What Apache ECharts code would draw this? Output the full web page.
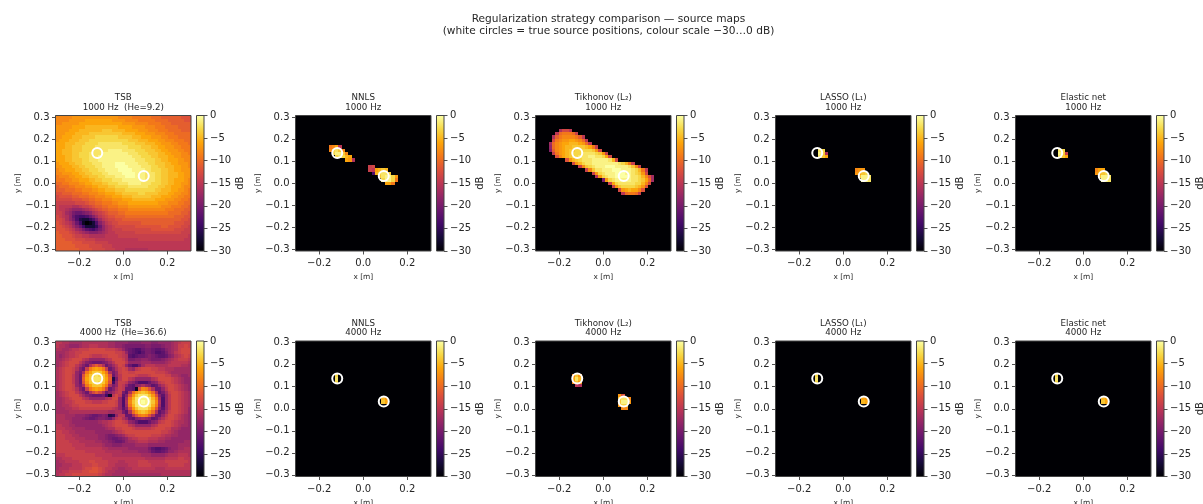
<!DOCTYPE html>
<html>
<head>
<meta charset="utf-8">
<style>html,body{margin:0;padding:0;background:#fff}#c{width:1203px;height:504px}</style>
<script src="https://cdn.jsdelivr.net/npm/echarts@6/dist/echarts.min.js"></script>
</head>
<body>
<div id="c"></div>
<script>
// Values are attenuation below peak in dB (top row first, y = +0.30).
const tsb1000Rows = [
[8,8,8,8,8,7,7,7,7,7,7,7,7,7,7,7,7,7,7,8,8,8,8,9,9,9,9,9,9,10,10,10,11,11,11,11,11,11,12,12,12],
[8,8,8,8,7,7,7,7,7,6,6,6,6,6,6,6,6,7,7,7,7,8,8,8,8,9,9,9,9,9,10,10,10,10,11,11,11,11,11,12,12],
[8,8,7,7,7,7,7,6,6,6,6,6,6,6,6,6,6,6,6,6,7,7,7,7,8,8,8,8,9,9,9,9,10,10,10,11,11,11,11,11,11],
[7,7,7,7,7,6,6,6,6,5,5,5,5,5,5,5,5,5,5,6,6,6,6,7,7,7,7,8,8,8,9,9,9,10,10,10,10,11,11,11,11],
[7,7,7,7,6,6,6,5,5,5,5,5,5,5,4,4,4,5,5,5,5,6,6,6,6,7,7,7,8,8,8,9,9,9,10,10,10,10,11,11,11],
[7,7,7,6,6,6,5,5,5,5,4,4,4,4,4,4,4,4,4,4,5,5,5,5,6,6,6,7,7,7,8,8,8,9,9,9,10,10,10,10,10],
[7,7,6,6,6,5,5,5,4,4,4,4,3,3,3,3,3,3,3,4,4,4,4,5,5,5,6,6,6,7,7,7,8,8,9,9,9,10,10,10,10],
[7,6,6,6,5,5,5,4,4,4,3,3,3,3,3,3,3,3,3,3,3,3,4,4,4,5,5,5,6,6,6,7,7,8,8,8,9,9,9,10,10],
[6,6,6,5,5,5,4,4,4,3,3,3,3,2,2,2,2,2,2,2,3,3,3,3,4,4,4,5,5,5,6,6,7,7,7,8,8,9,9,9,10],
[6,6,6,5,5,4,4,4,3,3,3,3,2,2,2,2,2,2,2,2,2,2,3,3,3,3,4,4,4,5,5,6,6,7,7,7,8,8,9,9,9],
[6,6,5,5,5,4,4,4,3,3,3,2,2,2,2,2,1,1,1,1,2,2,2,2,3,3,3,4,4,4,5,5,6,6,7,7,7,8,8,9,9],
[6,6,5,5,5,4,4,3,3,3,2,2,2,2,1,1,1,1,1,1,1,1,2,2,2,3,3,3,4,4,4,5,5,6,6,7,7,7,8,8,9],
[6,6,6,5,5,4,4,3,3,3,2,2,2,1,1,1,1,1,1,1,1,1,1,2,2,2,3,3,3,4,4,5,5,5,6,6,7,7,8,8,8],
[6,6,6,5,5,4,4,4,3,3,2,2,2,1,1,1,1,1,1,1,1,1,1,1,2,2,2,3,3,3,4,4,5,5,6,6,6,7,7,8,8],
[7,6,6,6,5,5,4,4,3,3,3,2,2,2,1,1,1,1,0,0,0,1,1,1,1,2,2,2,3,3,4,4,4,5,5,6,6,7,7,7,8],
[7,7,6,6,6,5,5,4,4,3,3,3,2,2,1,1,1,1,0,0,0,0,1,1,1,1,2,2,2,3,3,4,4,5,5,5,6,6,7,7,8],
[8,7,7,6,6,6,5,5,4,4,3,3,3,2,2,1,1,1,1,0,0,0,0,1,1,1,1,2,2,3,3,3,4,4,5,5,6,6,7,7,7],
[8,8,7,7,7,6,6,5,5,4,4,3,3,3,2,2,1,1,1,1,0,0,0,0,1,1,1,2,2,2,3,3,4,4,5,5,5,6,6,7,7],
[9,8,8,8,7,7,6,6,5,5,4,4,4,3,3,2,2,2,1,1,1,0,0,0,1,1,1,2,2,2,3,3,4,4,5,5,5,6,6,7,7],
[9,9,9,8,8,7,7,6,6,6,5,5,4,4,3,3,3,2,2,2,1,1,1,1,1,1,1,2,2,2,3,3,4,4,5,5,6,6,6,7,8],
[10,10,9,9,8,8,8,7,7,6,6,5,5,5,4,4,3,3,3,2,2,2,1,1,1,1,2,2,2,3,3,3,4,4,5,5,6,6,7,7,8],
[11,10,10,10,9,9,8,8,8,7,7,6,6,5,5,5,4,4,3,3,3,3,2,2,2,2,2,2,3,3,3,4,4,5,5,6,6,6,7,8,8],
[11,11,11,10,10,10,9,9,8,8,8,7,7,6,6,5,5,5,4,4,4,3,3,3,3,3,3,3,3,3,4,4,5,5,5,6,6,7,7,8,9],
[12,12,11,11,11,10,10,10,9,9,8,8,8,7,7,6,6,6,5,5,4,4,4,4,4,3,3,4,4,4,4,5,5,5,6,6,7,7,8,8,9],
[13,12,12,12,12,11,11,10,10,10,9,9,8,8,8,7,7,6,6,6,5,5,5,4,4,4,4,4,4,5,5,5,6,6,6,7,7,8,8,9,9],
[13,13,13,13,13,12,12,12,11,11,10,10,9,9,8,8,8,7,7,7,6,6,6,5,5,5,5,5,5,5,6,6,6,7,7,7,8,8,9,9,10],
[14,14,14,14,14,14,13,13,13,12,11,11,10,10,9,9,9,8,8,7,7,7,6,6,6,6,6,6,6,6,6,7,7,7,8,8,8,9,9,10,10],
[14,15,15,15,15,16,16,15,14,14,13,12,11,11,10,10,9,9,9,8,8,8,7,7,7,7,7,7,7,7,7,7,8,8,8,9,9,9,10,10,11],
[14,15,15,16,17,18,18,18,17,16,15,14,13,12,11,11,10,10,10,9,9,9,8,8,8,8,8,8,8,8,8,8,8,9,9,9,10,10,10,11,11],
[14,14,15,17,18,20,21,21,20,19,18,16,15,14,13,12,11,11,11,10,10,9,9,9,9,9,9,9,9,9,9,9,9,9,10,10,10,10,11,11,12],
[13,14,15,16,18,21,23,24,24,23,21,19,17,15,14,13,12,12,11,11,11,10,10,10,10,10,10,10,10,10,10,10,10,10,10,10,11,11,11,12,12],
[13,13,14,16,18,20,23,26,27,27,25,23,20,17,15,14,13,13,12,12,11,11,11,11,11,11,11,11,11,11,11,11,11,11,11,11,11,11,12,12,13],
[12,13,14,15,16,18,21,24,28,30,29,27,23,19,17,15,14,13,13,12,12,12,12,12,12,12,11,11,11,11,11,11,11,11,11,11,12,12,12,13,13],
[12,12,13,14,15,17,19,21,24,27,27,27,25,21,18,16,15,14,13,13,13,13,13,13,12,12,12,12,12,12,12,12,11,11,12,12,12,12,13,13,14],
[12,12,12,13,14,15,17,18,20,22,23,24,22,20,18,16,15,14,14,14,13,13,13,13,13,13,13,13,13,12,12,12,12,12,12,12,13,13,13,14,14],
[11,12,12,12,13,14,15,16,17,18,19,19,19,18,17,16,15,15,14,14,14,14,14,14,13,13,13,13,13,13,13,13,13,13,13,13,13,13,14,14,14],
[11,11,12,12,12,13,14,14,15,15,16,16,16,16,16,15,15,15,15,14,14,14,14,14,14,14,14,14,14,14,14,14,14,14,14,14,14,14,14,14,15],
[11,11,11,12,12,12,13,13,13,14,14,14,15,15,15,15,15,15,15,15,15,15,15,15,15,14,14,14,14,14,14,14,14,14,14,14,14,14,14,15,15],
[11,11,11,11,11,12,12,12,13,13,13,13,14,14,14,14,15,15,15,15,15,15,15,15,15,15,15,15,15,15,15,15,15,15,15,15,15,15,15,15,15],
[11,11,11,11,11,11,12,12,12,12,13,13,13,13,14,14,14,15,15,15,15,15,15,15,15,15,15,15,15,15,15,15,15,15,15,15,15,15,15,15,15],
[11,11,11,11,11,11,11,12,12,12,12,13,13,13,13,14,14,14,15,15,15,16,16,16,16,16,16,16,15,15,15,15,15,15,15,15,15,15,15,15,15]
];
const tsb4000Rows = [
[15,15,16,16,17,17,17,17,16,16,16,16,16,16,16,16,17,17,18,18,18,18,19,19,19,19,18,18,18,19,19,18,18,18,18,17,16,15,14,14,14],
[15,16,16,17,18,18,18,17,16,16,15,15,15,16,16,16,17,17,18,18,19,20,20,20,20,20,20,19,19,20,20,20,19,18,18,17,16,14,14,13,14],
[16,16,17,17,16,15,15,14,14,14,13,13,13,13,13,14,14,14,15,16,18,20,21,22,23,23,21,20,20,21,22,22,21,19,18,17,16,14,13,13,13],
[17,17,17,16,15,15,14,14,13,13,13,13,13,13,13,13,13,13,14,14,15,18,21,22,23,24,22,20,20,21,23,23,22,20,18,17,15,14,13,13,13],
[17,18,17,16,15,15,14,13,13,13,14,15,15,15,14,14,13,13,13,14,15,16,22,23,22,21,21,20,19,20,21,22,22,21,19,18,16,15,14,13,14],
[17,17,16,15,14,13,13,13,15,16,18,18,18,18,18,16,15,13,13,13,14,16,20,20,19,19,18,18,19,20,20,20,19,18,17,16,15,14,14,14,15],
[17,16,15,14,13,13,13,15,17,19,20,21,21,21,20,19,17,15,13,13,13,15,18,18,18,18,17,17,17,18,18,18,18,17,16,15,15,15,15,15,16],
[17,16,15,14,13,13,15,17,19,21,16,13,11,13,16,21,19,17,15,13,14,18,21,23,23,20,17,15,15,15,16,16,16,16,15,15,15,15,16,16,17],
[16,15,14,13,13,14,16,19,21,14,9,7,6,7,9,14,21,19,16,14,13,14,17,18,15,14,13,13,13,14,14,15,15,16,16,16,17,17,17,17,17],
[16,15,14,13,13,14,18,20,16,9,6,4,4,4,6,9,16,20,18,14,13,13,14,14,13,13,13,13,13,13,14,14,14,15,16,17,17,17,17,17,17],
[16,15,14,13,13,15,18,21,12,7,4,3,2,3,4,7,12,21,18,15,13,13,13,13,14,15,15,15,14,13,13,13,13,14,14,16,16,17,18,18,17],
[16,15,14,13,13,15,18,21,11,6,4,2,2,2,4,6,11,26,20,15,13,13,15,16,18,18,18,18,18,16,15,13,13,13,13,14,15,16,17,18,18],
[16,15,14,13,13,15,18,21,12,7,4,3,2,3,4,7,12,24,18,14,14,15,18,19,21,23,23,23,21,19,18,15,14,13,13,14,15,16,17,18,18],
[16,15,14,13,13,14,18,20,16,9,6,4,4,4,6,9,16,20,18,14,15,18,21,22,19,18,16,18,19,22,21,18,16,14,13,13,14,15,16,17,18],
[16,15,14,13,13,14,16,19,21,14,9,7,6,7,9,14,21,19,16,14,15,21,21,22,28,12,8,9,12,16,21,21,18,15,13,13,14,15,16,17,18],
[17,16,15,14,13,13,15,17,19,21,16,13,11,13,16,21,19,17,15,14,20,22,16,10,7,5,4,5,7,10,16,22,20,17,14,13,13,14,15,16,17],
[17,16,15,14,13,13,13,15,17,19,20,21,21,21,20,24,28,15,13,15,22,19,12,7,4,2,2,2,4,7,12,19,22,18,15,13,13,14,15,16,17],
[17,17,16,15,14,13,13,13,15,16,18,18,18,18,18,16,15,13,13,18,23,17,9,5,2,1,1,1,2,5,9,17,23,18,15,13,13,14,15,16,17],
[17,17,16,15,15,14,13,13,13,14,14,15,15,15,14,14,13,13,14,18,23,16,8,4,2,1,0,1,2,4,8,16,23,18,15,13,13,14,15,16,17],
[17,17,16,16,15,14,14,13,13,13,13,13,13,13,13,13,13,13,14,18,23,17,9,5,2,1,1,1,2,5,9,17,23,18,15,13,13,14,15,16,17],
[17,17,17,16,16,15,15,14,14,14,14,14,14,14,14,14,14,15,16,18,22,19,12,7,4,2,2,2,4,7,12,19,22,18,15,13,13,14,15,16,18],
[17,17,17,17,16,16,16,16,16,16,16,16,16,16,16,16,17,17,16,16,20,22,16,10,7,5,4,5,7,10,16,22,20,17,14,13,13,14,15,16,18],
[16,16,16,17,17,17,18,18,18,19,20,21,21,20,19,20,26,25,18,15,15,21,21,16,12,9,8,9,12,16,21,21,18,15,13,13,14,15,16,17,18],
[16,16,16,17,17,18,18,18,19,20,21,21,20,19,19,20,21,18,15,14,16,18,21,22,19,18,17,18,19,22,21,18,16,14,13,13,14,15,16,17,18],
[16,16,16,16,17,18,18,18,18,18,18,18,18,17,16,16,15,14,13,13,14,15,18,19,21,23,23,23,21,19,18,15,14,13,13,14,15,16,16,17,18],
[15,15,16,16,17,17,18,18,18,18,18,18,18,18,17,16,15,14,13,13,13,13,15,16,18,18,18,18,18,16,15,13,13,13,13,14,15,16,17,17,18],
[15,15,15,16,16,17,17,17,17,18,18,18,18,18,18,17,16,16,14,14,13,13,13,14,15,15,15,15,15,14,13,13,13,14,14,16,16,17,18,18,18],
[14,14,15,15,16,16,17,17,17,17,17,17,18,18,18,18,18,17,16,15,14,13,13,13,13,13,13,13,13,13,13,13,14,14,15,16,17,18,18,18,18],
[14,14,14,15,15,16,16,17,17,17,17,17,17,18,18,19,20,20,19,18,17,15,14,14,13,13,13,13,13,14,14,14,15,16,16,17,17,18,18,18,18],
[14,14,14,15,15,15,16,16,16,17,17,17,17,18,18,19,20,21,21,20,19,18,16,15,15,14,14,14,15,15,15,16,16,17,17,18,18,18,18,18,18],
[14,14,14,14,15,15,15,16,16,16,16,16,17,17,18,18,19,20,21,21,20,18,17,17,16,15,15,15,16,16,16,17,17,18,18,18,18,18,18,17,17],
[14,14,14,14,14,15,15,15,15,16,16,16,16,16,17,18,18,19,19,19,18,18,18,18,17,17,17,17,18,18,18,18,18,18,18,18,18,17,17,17,17],
[14,14,14,14,14,14,15,15,15,15,15,15,15,15,16,16,17,17,17,17,17,17,18,18,18,18,18,18,20,22,23,23,22,21,19,18,18,17,17,16,16],
[14,14,14,14,14,14,14,14,14,15,15,15,15,15,15,16,16,16,16,16,17,17,17,17,17,18,18,18,19,21,22,22,21,20,18,18,17,16,16,16,16],
[15,15,15,14,14,14,14,14,14,14,14,14,15,15,15,15,15,16,16,16,16,16,16,16,16,16,17,17,17,18,18,18,18,17,16,16,16,15,15,15,16],
[16,16,15,15,15,14,14,14,14,14,14,14,14,14,15,15,15,15,15,15,15,15,15,15,15,15,15,16,16,16,16,16,16,15,15,15,15,14,14,15,15],
[17,16,16,15,15,15,15,14,14,14,13,13,14,14,14,14,15,15,15,16,16,15,15,15,15,14,14,14,15,15,15,15,15,14,14,14,14,14,14,14,15],
[17,17,16,16,16,15,15,15,14,14,14,13,13,14,14,14,15,15,16,16,16,16,15,15,15,14,14,14,14,15,15,15,15,15,14,14,14,14,14,15,15],
[17,16,16,16,15,15,15,15,14,13,13,12,12,13,14,15,15,16,16,17,17,16,16,15,15,15,15,15,15,15,16,16,16,15,15,15,15,15,15,15,15],
[16,16,15,15,14,14,14,14,13,13,12,12,12,13,14,15,16,16,17,17,17,17,16,16,16,16,16,16,16,16,16,16,16,16,16,16,16,16,16,16,16],
[16,15,15,14,14,13,13,13,13,13,13,13,13,14,15,16,16,17,17,17,17,17,17,17,17,17,17,17,17,17,17,17,16,16,16,16,16,16,16,16,16]
];
// Sparse maps: [row, first column, attenuations]; every other cell is below the colour floor.
const nnls1000Rows = [[9,10,[9,8,6,15]],[10,10,[8,3,2,4,8]],[11,11,[3,1,1,4,8]],[12,12,[3,2,3,5,6]],[13,15,[6,7,16]],[15,22,[14,13]],[16,22,[14,15,6,5,4,5]],[17,23,[23,5,3,2,2,4]],[18,25,[4,2,1,1,3,7]],[19,26,[3,1,1,3,9]],[20,27,[6,6,9]]];
const tikhonov1000Rows = [[4,7,[16,13,13,15]],[5,6,[15,10,9,9,9,10,14]],[6,5,[16,11,9,8,8,8,8,9,11,15]],[7,5,[13,9,8,7,7,6,6,7,8,10,15]],[8,4,[17,10,8,7,6,6,5,5,5,6,7,10,15]],[9,4,[18,10,8,7,6,5,5,4,4,4,4,5,6,9,14]],[10,4,[19,11,8,7,6,5,4,4,3,3,3,3,3,4,7,13]],[11,5,[14,9,7,6,5,4,3,3,3,2,2,2,2,3,4,7,14]],[12,6,[12,8,6,5,4,3,3,2,2,2,1,1,2,2,3,6,13]],[13,9,[12,7,5,4,3,2,2,2,1,1,1,1,1,2,5,13]],[14,11,[13,7,5,3,2,2,1,1,1,1,1,1,1,1,2,3,5,9,14]],[15,13,[14,8,4,3,2,1,1,1,0,0,0,1,1,1,1,2,4,8,14]],[16,15,[14,8,4,2,2,1,1,1,0,0,0,1,1,1,2,3,5,9,15]],[17,17,[14,7,3,2,1,1,1,0,0,0,1,1,2,3,4,7,13]],[18,18,[16,7,3,2,1,1,0,0,0,0,1,2,2,3,5,8,12,17]],[19,20,[20,7,3,2,1,1,1,1,1,2,2,3,4,6,10,17]],[20,22,[14,6,3,2,2,2,2,2,3,3,5,8,13]],[21,23,[14,7,4,3,3,3,3,4,5,7,12]],[22,25,[13,7,6,5,6,6,8,12]],[23,26,[15,10,9,9,10,14]]];
const lasso1000Rows = [[10,13,[2,3]],[11,13,[1,4,16]],[12,13,[2,4,6]],[16,24,[8,7,7]],[17,24,[7,6,4,3]],[18,25,[4,1,1,2]],[19,26,[1,1,2]]];
const elastic1000Rows = [[10,13,[2,3]],[11,13,[1,4,14]],[12,13,[2,4,6]],[16,24,[8,6,6]],[17,24,[7,5,4,3]],[18,25,[4,1,1,2]],[19,26,[1,1,2]]];
const nnls4000Rows = [[10,12,[3]],[11,12,[2]],[12,12,[3]],[17,26,[5,7]],[18,26,[4,6]]];
const tikhonov4000Rows = [[10,11,[8,4,7]],[11,11,[6,2,5]],[12,11,[8,4,7]],[13,12,[15,16]],[16,25,[7,12]],[17,25,[4,2,2,8]],[18,25,[4,1,1,7]],[19,25,[7,3,3]],[20,26,[8,8]]];
const lasso4000Rows = [[10,12,[3]],[11,12,[2]],[12,12,[3]],[17,26,[6,7]],[18,26,[5,6]]];
const elastic4000Rows = [[10,12,[3]],[11,12,[2]],[12,12,[3]],[17,26,[5,6]],[18,26,[4,6]]];

const sourceX = [-0.118, 0.093];
const sourceY = [0.137, 0.033];
const xTicks = [-0.2, 0, 0.2];
const yTicks = [-0.3, -0.2, -0.1, 0, 0.1, 0.2, 0.3];
const panelTitles = [
 'TSB\n1000 Hz  (He=9.2)', 'NNLS\n1000 Hz', 'Tikhonov (L\u2082)\n1000 Hz', 'LASSO (L\u2081)\n1000 Hz', 'Elastic net\n1000 Hz',
 'TSB\n4000 Hz  (He=36.6)', 'NNLS\n4000 Hz', 'Tikhonov (L\u2082)\n4000 Hz', 'LASSO (L\u2081)\n4000 Hz', 'Elastic net\n4000 Hz'
];
const infernoStops = ['#000004','#160b39','#420a68','#6a176e','#932667','#bc3754','#dd513a','#f37819','#fca50a','#f6d746','#fcffa4'];
const suptitle = 'Regularization strategy comparison \u2014 source maps\n(white circles = true source positions, colour scale \u221230\u20260 dB)';

const STEP = 0.015, EDGE = 0.3075;
const FONT = '"DejaVu Sans"', INK = '#262626';
const panelLefts = [55.5, 295.5, 535.5, 775.5, 1015.5];
const panelTops = [115.5, 341];
const PSIZE = 135.5, CB_GAP = 5.5, CB_W = 7.5;

function denseCells(rows) {
  const out = [];
  rows.forEach((r, j) => r.forEach((a, i) => out.push([-0.3 + STEP * i, 0.3 - STEP * j, -a])));
  return out;
}
function sparseCells(rows) {
  const out = [];
  rows.forEach(([j, c0, vals]) => vals.forEach((a, k) => out.push([-0.3 + STEP * (c0 + k), 0.3 - STEP * j, -a])));
  return out;
}
const panelData = [
  denseCells(tsb1000Rows), sparseCells(nnls1000Rows), sparseCells(tikhonov1000Rows), sparseCells(lasso1000Rows), sparseCells(elastic1000Rows),
  denseCells(tsb4000Rows), sparseCells(nnls4000Rows), sparseCells(tikhonov4000Rows), sparseCells(lasso4000Rows), sparseCells(elastic4000Rows)
];
const fmtPos = v => (v < 0 ? '\u2212' : '') + Math.abs(v).toFixed(1);
const fmtDb = v => (v < 0 ? '\u2212' + (-v) : '0');

function renderCell(params, api) {
  const a = api.coord([api.value(0) - STEP / 2, api.value(1) + STEP / 2]);
  const b = api.coord([api.value(0) + STEP / 2, api.value(1) - STEP / 2]);
  const x0 = Math.round(a[0]), y0 = Math.round(a[1]), x1 = Math.round(b[0]), y1 = Math.round(b[1]);
  return { type: 'rect', shape: { x: x0, y: y0, width: x1 - x0, height: y1 - y0 },
           style: { fill: api.visual('color') } };
}
function renderBar(params, api) {
  const a = api.coord([0, 0]), b = api.coord([1, -30]);
  return { type: 'rect', shape: { x: a[0], y: a[1], width: b[0] - a[0], height: b[1] - a[1] },
    style: { fill: new echarts.graphic.LinearGradient(0, 1, 0, 0,
      infernoStops.map((color, i) => ({ offset: i / (infernoStops.length - 1), color }))) } };
}

const grid = [], xAxis = [], yAxis = [], series = [], title = [], graphic = [], heatIdx = [];
title.push({ text: suptitle, left: 608.5, top: 13.5, padding: 0, textAlign: 'center',
  textStyle: { fontFamily: FONT, fontSize: 10.6, fontWeight: 'normal', color: INK, lineHeight: 12 } });

panelData.forEach((cells, p) => {
  const left = panelLefts[p % 5], top = panelTops[Math.floor(p / 5)];
  const g = grid.length;
  grid.push({ left, top, width: PSIZE, height: PSIZE, show: true, backgroundColor: '#000004', borderWidth: 0, outerBoundsMode: 'none' });
  const axisBase = { type: 'value', min: -EDGE, max: EDGE, gridIndex: g, splitLine: { show: false },
    axisLine: { show: false, onZero: false },
    nameLocation: 'middle', nameTextStyle: { fontFamily: FONT, fontSize: 7.4, color: INK } };
  xAxis.push(Object.assign({}, axisBase, { name: 'x [m]', nameGap: 23,
    axisTick: { show: true, length: 3.5, lineStyle: { color: INK, width: 0.8 }, customValues: xTicks },
    axisLabel: { fontFamily: FONT, fontSize: 10, color: INK, margin: 7.5, formatter: fmtPos, customValues: xTicks } }));
  yAxis.push(Object.assign({}, axisBase, { name: 'y [m]', nameGap: 34, nameRotate: 90,
    axisTick: { show: true, length: 3.5, lineStyle: { color: INK, width: 0.8 }, customValues: yTicks },
    axisLabel: { fontFamily: FONT, fontSize: 10, color: INK, margin: 6, formatter: fmtPos, customValues: yTicks } }));
  heatIdx.push(series.length);
  series.push({ type: 'custom', xAxisIndex: g, yAxisIndex: g, coordinateSystem: 'cartesian2d', renderItem: renderCell,
    data: cells, encode: { x: 0, y: 1 }, clip: true, silent: true, z: 2 });
  series.push({ type: 'scatter', xAxisIndex: g, yAxisIndex: g, symbol: 'circle', symbolSize: 10, silent: true, z: 3,
    itemStyle: { color: 'rgba(0,0,0,0)', borderColor: '#ffffff', borderWidth: 2, opacity: 1 },
    data: sourceX.map((x, i) => [x, sourceY[i]]) });

  const cbLeft = left + PSIZE + CB_GAP, cg = grid.length;
  grid.push({ left: cbLeft, top, width: CB_W, height: PSIZE, show: false, outerBoundsMode: 'none' });
  xAxis.push({ type: 'value', gridIndex: cg, min: 0, max: 1, show: false });
  yAxis.push({ type: 'value', gridIndex: cg, position: 'right', min: -30, max: 0, interval: 5, splitLine: { show: false },
    axisLine: { show: false, onZero: false }, axisTick: { show: true, length: 3.5, lineStyle: { color: INK, width: 0.8 } },
    axisLabel: { fontFamily: FONT, fontSize: 10, color: INK, margin: 6, formatter: fmtDb },
    name: 'dB', nameLocation: 'middle', nameGap: 30, nameRotate: 90,
    nameTextStyle: { fontFamily: FONT, fontSize: 10, color: INK } });
  series.push({ type: 'custom', xAxisIndex: cg, yAxisIndex: cg, coordinateSystem: 'cartesian2d', renderItem: renderBar,
    data: [[0, -30]], silent: true, z: 2 });

  title.push({ text: panelTitles[p], left: left + PSIZE / 2, top: top - 22.5, padding: 0, textAlign: 'center',
    textStyle: { fontFamily: FONT, fontSize: 8.7, fontWeight: 'normal', color: INK, lineHeight: 9.5 } });
  const frame = { stroke: '#444444', lineWidth: 1, fill: 'rgba(0,0,0,0)' };
  graphic.push({ type: 'rect', silent: true, z: 100, shape: { x: left, y: top, width: PSIZE, height: PSIZE }, style: frame });
  graphic.push({ type: 'rect', silent: true, z: 100, shape: { x: cbLeft, y: top, width: CB_W, height: PSIZE }, style: frame });
});

const chart = echarts.init(document.getElementById('c'), null, { renderer: 'canvas' });
chart.setOption({
  animation: false, backgroundColor: '#ffffff', title, grid, xAxis, yAxis, series, graphic,
  visualMap: { show: false, type: 'continuous', min: -30, max: 0, dimension: 2, seriesIndex: heatIdx,
    inRange: { color: infernoStops } }
});
</script>
</body>
</html>
